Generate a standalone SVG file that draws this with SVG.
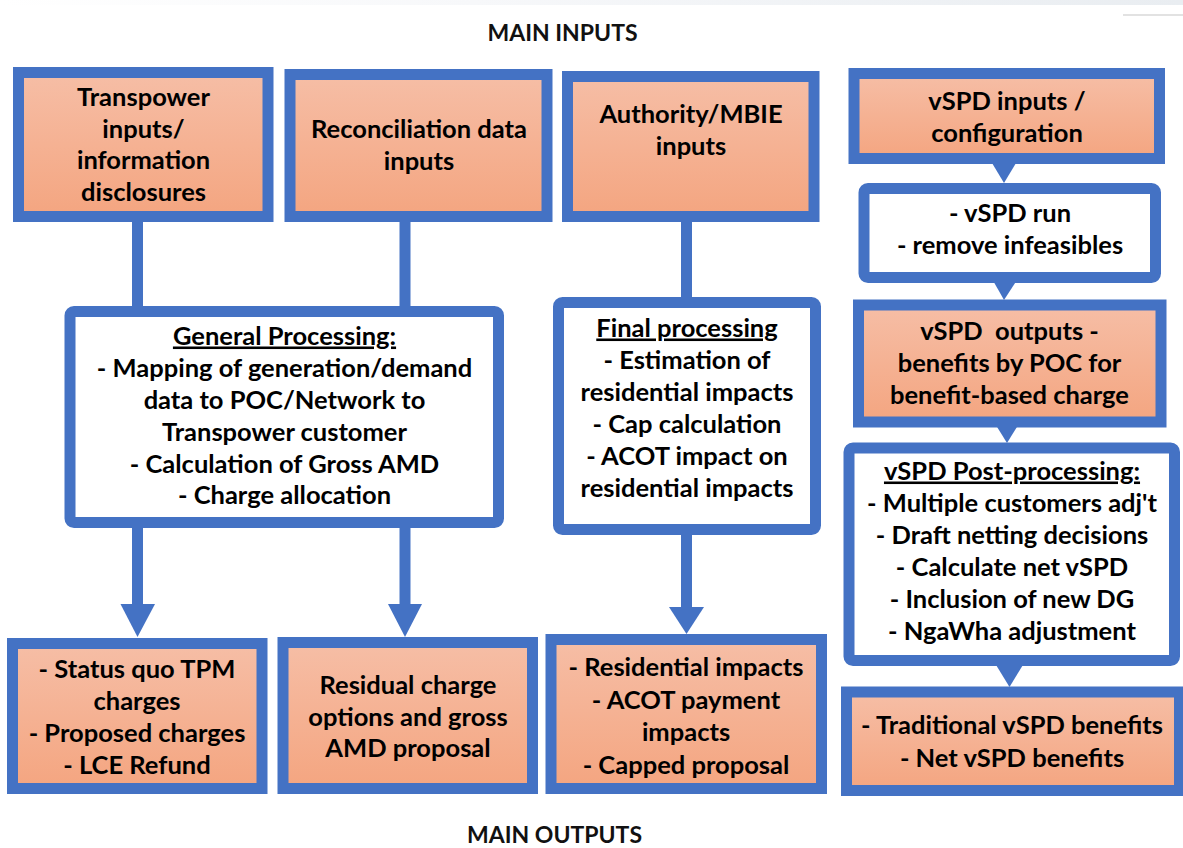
<svg xmlns="http://www.w3.org/2000/svg" width="1183" height="848" viewBox="0 0 1183 848">
<defs>
<linearGradient id="og" x1="0" y1="0" x2="0" y2="1">
<stop offset="0" stop-color="#F6BEA6"/>
<stop offset="1" stop-color="#F4A580"/>
</linearGradient>
<linearGradient id="topband" x1="0" y1="0" x2="1" y2="0">
<stop offset="0" stop-color="#FFFFFF"/>
<stop offset="0.4" stop-color="#F7F8FA"/>
<stop offset="1" stop-color="#E9EDF1"/>
</linearGradient>
<style>
.ob{fill:url(#og);stroke:#4472C4;stroke-width:11}
.wb{fill:#FFFFFF;stroke:#4472C4;stroke-width:11}
.t{font-family:Lato,"Liberation Sans",sans-serif;font-weight:700;font-size:25.5px;fill:#000;text-anchor:middle}
.h{font-family:Lato,"Liberation Sans",sans-serif;font-weight:700;font-size:23px;fill:#111;text-anchor:middle}
.u{text-decoration:underline}
.sh{stroke:#4472C4;stroke-width:11;fill:none}
.ah{fill:#4472C4}
</style>
</defs>
<rect x="0" y="0" width="1183" height="848" fill="#FFFFFF"/>
<rect x="0" y="0" width="1183" height="5" fill="url(#topband)"/>
<line x1="1123" y1="15" x2="1183" y2="15" stroke="#D9D9D9" stroke-width="1.5"/>

<text class="h" x="562.5" y="41">MAIN INPUTS</text>
<text class="h" x="554.5" y="843">MAIN OUTPUTS</text>

<g id="connectors">
<line class="sh" x1="137.5" y1="216" x2="137.5" y2="312"/>
<line class="sh" x1="405" y1="216" x2="405" y2="312"/>
<line class="sh" x1="686.5" y1="216" x2="686.5" y2="303"/>
<line class="sh" x1="137.5" y1="522" x2="137.5" y2="605"/>
<polygon class="ah" points="120.5,604 155,604 137.5,637"/>
<line class="sh" x1="405" y1="522" x2="405" y2="605"/>
<polygon class="ah" points="388,604 422,604 405,637"/>
<line class="sh" x1="686.5" y1="529" x2="686.5" y2="608"/>
<polygon class="ah" points="669,607 704,607 686.5,634"/>
<polygon class="ah" points="989,158 1019,158 1004,183"/>
<polygon class="ah" points="991,277 1019,277 1004,300"/>
<polygon class="ah" points="994,422 1020,422 1007,443"/>
<polygon class="ah" points="993,660 1026,660 1009.5,687"/>
</g>

<g id="n-transpower">
<rect class="ob" x="18.5" y="72.5" width="249.5" height="144"/>
<text class="t" x="143.5" y="106">Transpower</text>
<text class="t" x="143.5" y="137.5">inputs/</text>
<text class="t" x="143.5" y="169">information</text>
<text class="t" x="143.5" y="200.5">disclosures</text>
</g>

<g id="n-reconciliation">
<rect class="ob" x="290" y="74.5" width="257" height="142"/>
<text class="t" x="419" y="138">Reconciliation data</text>
<text class="t" x="419" y="170">inputs</text>
</g>

<g id="n-authority">
<rect class="ob" x="567.5" y="76.5" width="246.5" height="140"/>
<text class="t" x="691" y="123">Authority/MBIE</text>
<text class="t" x="691" y="155">inputs</text>
</g>

<g id="n-vspd-inputs">
<rect class="ob" x="854" y="73.5" width="305.5" height="85"/>
<text class="t" x="1007" y="109.5">vSPD inputs /</text>
<text class="t" x="1007" y="141.5">configuration</text>
</g>

<g id="n-vspd-run">
<rect class="wb" x="864" y="188.5" width="291.5" height="89" rx="4"/>
<text class="t" x="1010" y="221.5">- vSPD run</text>
<text class="t" x="1010" y="253.5">- remove infeasibles</text>
</g>

<g id="n-vspd-outputs">
<rect class="ob" x="858.5" y="305" width="302.5" height="117"/>
<text class="t" x="1009.5" y="339.5" xml:space="preserve">vSPD  outputs -</text>
<text class="t" x="1009.5" y="371.5">benefits by POC for</text>
<text class="t" x="1009.5" y="403.5">benefit-based charge</text>
</g>

<g id="n-general">
<rect class="wb" x="70" y="311.5" width="428.5" height="211" rx="4"/>
<text class="t u" x="284.5" y="344.5">General Processing:</text>
<text class="t" x="284.5" y="376.5">- Mapping of generation/demand</text>
<text class="t" x="284.5" y="408.5">data to POC/Network to</text>
<text class="t" x="284.5" y="440.5">Transpower customer</text>
<text class="t" x="284.5" y="472.5">- Calculation of Gross AMD</text>
<text class="t" x="284.5" y="503.5">- Charge allocation</text>
</g>

<g id="n-final">
<rect class="wb" x="558.5" y="302.5" width="257" height="227" rx="4"/>
<text class="t u" x="687" y="336.5">Final processing</text>
<text class="t" x="687" y="368.5">- Estimation of</text>
<text class="t" x="687" y="400.5">residential impacts</text>
<text class="t" x="687" y="432.5">- Cap calculation</text>
<text class="t" x="687" y="464.5">- ACOT impact on</text>
<text class="t" x="687" y="496.5">residential impacts</text>
</g>

<g id="n-postprocessing">
<rect class="wb" x="849" y="448" width="325.5" height="212.5" rx="4"/>
<text class="t u" x="1012" y="479.5">vSPD Post-processing:</text>
<text class="t" x="1012" y="512">- Multiple customers adj't</text>
<text class="t" x="1012" y="544">- Draft netting decisions</text>
<text class="t" x="1012" y="576">- Calculate net vSPD</text>
<text class="t" x="1012" y="608">- Inclusion of new DG</text>
<text class="t" x="1012" y="640">- NgaWha adjustment</text>
</g>

<g id="n-status-quo">
<rect class="ob" x="12.5" y="643.5" width="249.5" height="145"/>
<text class="t" x="137" y="677.5">- Status quo TPM</text>
<text class="t" x="137" y="709.5">charges</text>
<text class="t" x="137" y="741.5">- Proposed charges</text>
<text class="t" x="137" y="773.5">- LCE Refund</text>
</g>

<g id="n-residual">
<rect class="ob" x="283" y="642.5" width="249.5" height="146"/>
<text class="t" x="408" y="693.5">Residual charge</text>
<text class="t" x="408" y="725.5">options and gross</text>
<text class="t" x="408" y="756.5">AMD proposal</text>
</g>

<g id="n-residential">
<rect class="ob" x="551" y="639.5" width="270.5" height="149"/>
<text class="t" x="686" y="675.5">- Residential impacts</text>
<text class="t" x="686" y="708.5">- ACOT payment</text>
<text class="t" x="686" y="740.5">impacts</text>
<text class="t" x="686" y="773.5">- Capped proposal</text>
</g>

<g id="n-traditional">
<rect class="ob" x="846.5" y="692" width="333" height="98.5"/>
<text class="t" x="1012" y="733.5">- Traditional vSPD benefits</text>
<text class="t" x="1012" y="766.5">- Net vSPD benefits</text>
</g>
</svg>
